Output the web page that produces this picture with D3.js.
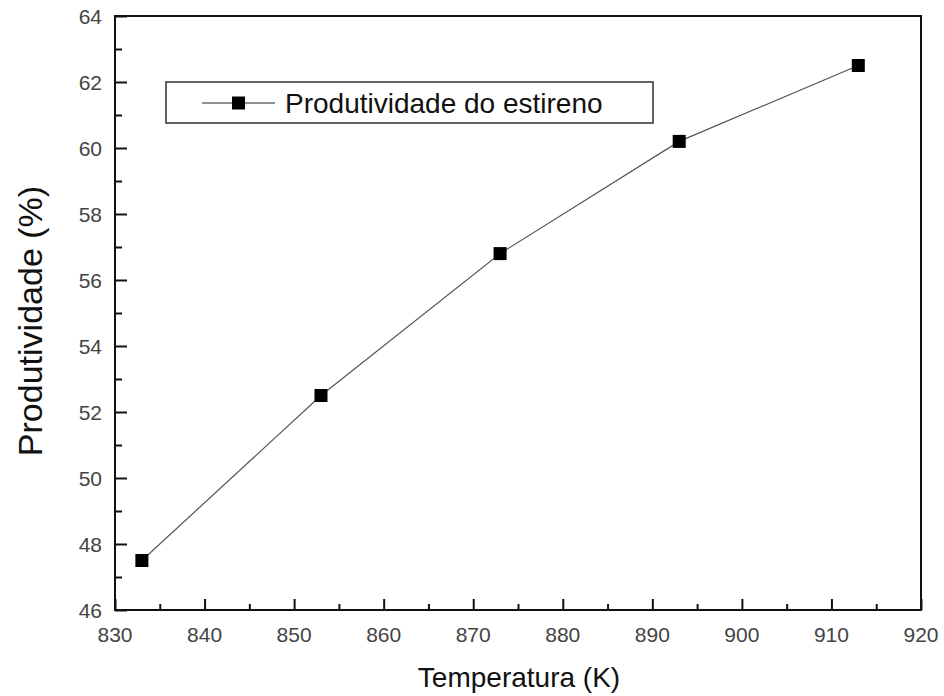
<!DOCTYPE html>
<html>
<head>
<meta charset="utf-8">
<script src="https://cdn.jsdelivr.net/npm/d3@7"></script>
<style>
  body { margin: 0; background: #fff; }
  text { font-family: "Liberation Sans", Arial, sans-serif; }
</style>
</head>
<body>
<script>
const temperatures = [833, 853, 873, 893, 913];
const productivity = [47.5, 52.5, 56.8, 60.2, 62.5];
const seriesName = "Produtividade do estireno";
const xTicks = [830, 840, 850, 860, 870, 880, 890, 900, 910, 920];
const yTicks = [46, 48, 50, 52, 54, 56, 58, 60, 62, 64];

const options = {
    width: 944,
    height: 696,
    left: 115,
    right: 921,
    top: 16,
    bottom: 610,
}

let svg = d3.select("body")
    .append("svg")
    .attr("width", options.width)
    .attr("height", options.height)

const x = d3.scaleLinear().domain([830, 920]).range([options.left, options.right]);
const y = d3.scaleLinear().domain([46, 64]).range([options.bottom, options.top]);

// minor ticks halfway between majors
const xMinor = xTicks.slice(0, -1).map(t => t + 5);
const yMinor = yTicks.slice(0, -1).map(t => t + 1);

let xAxis = svg.append("g")
    .attr("transform", `translate(0,${options.bottom})`)
    .call(d3.axisTop(x).tickValues(xTicks).tickSize(11).tickFormat(""))
xAxis.append("g")
    .call(d3.axisTop(x).tickValues(xMinor).tickSize(6).tickFormat(""))

let yAxis = svg.append("g")
    .attr("transform", `translate(${options.left},0)`)
    .call(d3.axisRight(y).tickValues(yTicks).tickSize(12).tickFormat(""))
yAxis.append("g")
    .call(d3.axisRight(y).tickValues(yMinor).tickSize(7).tickFormat(""))

svg.selectAll(".domain").remove();
svg.selectAll(".tick line").attr("stroke", "#111").attr("stroke-width", 2);

// frame
svg.append("rect")
    .attr("x", options.left)
    .attr("y", options.top)
    .attr("width", options.right - options.left)
    .attr("height", options.bottom - options.top)
    .attr("fill", "none")
    .attr("stroke", "#111")
    .attr("stroke-width", 2)

// tick labels
svg.selectAll(".xlab")
    .data(xTicks)
    .enter()
    .append("text")
    .attr("x", d => x(d))
    .attr("y", 642)
    .attr("text-anchor", "middle")
    .attr("font-size", 21)
    .attr("fill", "#444")
    .text(d => d)

svg.selectAll(".ylab")
    .data(yTicks)
    .enter()
    .append("text")
    .attr("x", options.left - 13)
    .attr("y", d => y(d) + 7.5)
    .attr("text-anchor", "end")
    .attr("font-size", 21)
    .attr("fill", "#444")
    .text(d => d)

// axis titles
svg.append("text")
    .attr("x", (options.left + options.right) / 2 + 1)
    .attr("y", 687)
    .attr("text-anchor", "middle")
    .attr("font-size", 28)
    .attr("fill", "#111")
    .text("Temperatura (K)")

svg.append("text")
    .attr("transform", `translate(42,${(options.top + options.bottom) / 2 + 8}) rotate(-90)`)
    .attr("text-anchor", "middle")
    .attr("font-size", 34)
    .attr("fill", "#111")
    .text("Produtividade (%)")

// series
const points = temperatures.map((t, i) => [t, productivity[i]]);

svg.append("path")
    .datum(points)
    .attr("fill", "none")
    .attr("stroke", "#555")
    .attr("stroke-width", 1.2)
    .attr("d", d3.line().x(d => x(d[0])).y(d => y(d[1])))

svg.selectAll(".pt")
    .data(points)
    .enter()
    .append("rect")
    .attr("x", d => x(d[0]) - 6.5)
    .attr("y", d => y(d[1]) - 6.5)
    .attr("width", 13)
    .attr("height", 13)
    .attr("fill", "#000")

// legend
let legend = svg.append("g")
legend.append("rect")
    .attr("x", 166)
    .attr("y", 82)
    .attr("width", 487)
    .attr("height", 41)
    .attr("fill", "#fff")
    .attr("stroke", "#333")
    .attr("stroke-width", 1.5)
legend.append("line")
    .attr("x1", 202).attr("x2", 275)
    .attr("y1", 103).attr("y2", 103)
    .attr("stroke", "#222")
    .attr("stroke-width", 1.2)
legend.append("rect")
    .attr("x", 232).attr("y", 96.5)
    .attr("width", 13).attr("height", 13)
    .attr("fill", "#000")
legend.append("text")
    .attr("x", 285)
    .attr("y", 113)
    .attr("font-size", 28)
    .attr("fill", "#111")
    .text(seriesName)
</script>
</body>
</html>
